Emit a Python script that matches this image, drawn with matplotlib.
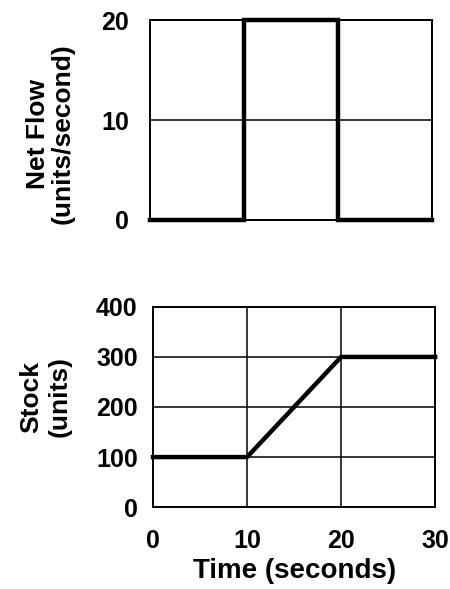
"""Net flow and stock over time."""

import matplotlib.pyplot as plt
from matplotlib.transforms import ScaledTranslation

plt.rcParams["font.family"] = ["Liberation Sans", "DejaVu Sans"]
plt.rcParams["font.weight"] = "bold"

FLOW_TIME = [0, 10, 20, 30]
NET_FLOW = [0, 20, 0, 0]
STOCK_TIME = [0, 10, 20, 30]
STOCK = [100, 100, 300, 300]
X_TICKS = [0, 10, 20, 30]
FLOW_TICKS = [0, 10, 20]
STOCK_TICKS = [0, 100, 200, 300, 400]


def style_axes(ax, yticks):
    ax.set_xlim(0, 30)
    ax.set_xticks(X_TICKS)
    ax.set_yticks(yticks)
    ax.set_ylim(yticks[0], yticks[-1])
    ax.grid(True, color="black", linewidth=1.1)
    ax.set_axisbelow(True)
    ax.tick_params(length=0, labelsize=18)
    for spine in ax.spines.values():
        spine.set_linewidth(1.4)
    # scanned original sits the y labels a touch low
    shift = ScaledTranslation(0, -0.05, ax.figure.dpi_scale_trans)
    for lab in ax.get_yticklabels():
        lab.set_transform(lab.get_transform() + shift)


fig = plt.figure(figsize=(4.5, 5.89), dpi=100)
ax_top = fig.add_axes([0.333, 0.6265, 0.627, 0.3395])
ax_bot = fig.add_axes([0.34, 0.139, 0.627, 0.34])

style_axes(ax_top, FLOW_TICKS)
ax_top.plot(FLOW_TIME, NET_FLOW, drawstyle="steps-post", color="black",
            linewidth=3.2, clip_on=False, solid_joinstyle="miter")
ax_top.tick_params(axis="x", labelbottom=False)
ax_top.tick_params(axis="y", pad=15)
ax_top.set_ylabel("Net Flow\n(units/second)", fontsize=19, fontweight="bold",
                  linespacing=1.0)
ax_top.yaxis.set_label_coords(-0.268, 0.43)

style_axes(ax_bot, STOCK_TICKS)
ax_bot.plot(STOCK_TIME, STOCK, color="black", linewidth=3.2, clip_on=False)
ax_bot.tick_params(axis="y", pad=11)
ax_bot.tick_params(axis="x", pad=16)
ax_bot.set_ylabel("Stock\n(units)", fontsize=19, fontweight="bold",
                  linespacing=1.2)
ax_bot.yaxis.set_label_coords(-0.29, 0.55)
ax_bot.set_xlabel("Time (seconds)", fontsize=20, fontweight="bold", labelpad=3)

fig.savefig("out.png", dpi=100)
plt.close("all")
